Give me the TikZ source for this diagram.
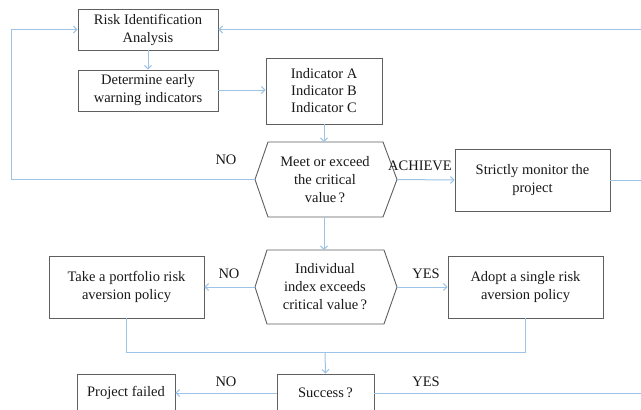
\documentclass[tikz,border=0pt]{standalone}
\usepackage{fontspec}
\setmainfont{Liberation Serif}
\usetikzlibrary{arrows.meta}
\definecolor{conncol}{HTML}{9DC3E6}
\definecolor{boxcol}{HTML}{5F5F5F}
\tikzset{
  boxnode/.style={draw=boxcol, line width=0.9pt, rectangle, align=center, inner sep=0pt,
    font=\fontsize{14.5}{18}\selectfont, text=black!90},
  hexline/.style={draw=boxcol, line width=0.9pt},
  txtnode/.style={align=center, inner sep=0pt, font=\fontsize{14.5}{18}\selectfont, text=black!90},
  conn/.style={draw=conncol, line width=1pt},
  arr/.style={conn, -{Straight Barb[length=3.5pt,width=7pt]}},
  lbl/.style={inner sep=0pt, font=\fontsize{14.5}{18}\selectfont, text=black!90}
}
\begin{document}
\begin{tikzpicture}[x=1pt,y=-1pt]
\useasboundingbox (0,0) rectangle (641,410);
\clip (0,0) rectangle (641,410);
\fill[white] (0,0) rectangle (641,410);
% boxes
\node[boxnode, minimum width=140pt, minimum height=41pt] (risk) at (148,29.5) {Risk Identification\\Analysis};
\node[boxnode, minimum width=140pt, minimum height=41pt] (det) at (148,90.5) {Determine early\\warning indicators};
\node[boxnode, minimum width=116pt, minimum height=66pt, font=\fontsize{14.5}{17}\selectfont] (ind) at (324,91) {Indicator A\\Indicator B\\Indicator C};
\node[boxnode, minimum width=155pt, minimum height=62pt] (mon) at (532.5,180) {Strictly monitor the\\project};
\node[boxnode, minimum width=155pt, minimum height=62pt] (port) at (126.5,287) {Take a portfolio risk\\aversion policy};
\node[boxnode, minimum width=155pt, minimum height=62pt] (adopt) at (525.5,287) {Adopt a single risk\\aversion policy};
\node[boxnode, minimum width=97pt, minimum height=38pt] (succ) at (325.5,393) {Success\thinspace?};
\node[boxnode, minimum width=98pt, minimum height=38pt] (fail) at (126,393) {Project failed};
% hexagon 1
\node[txtnode] (h1) at (325,179.5) {Meet or exceed\\the critical\\value\thinspace?};
\coordinate (h1w) at (255,179.5);
\coordinate (h1e) at (397,179.5);
\coordinate (h1n) at (324,142);
\coordinate (h1s) at (324,217);
\draw[hexline] (h1w) -- (268,142) -- (383,142) -- (h1e) -- (383,217) -- (268,217) -- cycle;
% hexagon 2
\node[txtnode] (h2) at (325,287) {Individual\\index exceeds\\critical value\thinspace?};
\coordinate (h2w) at (255,287);
\coordinate (h2e) at (397,287);
\coordinate (h2n) at (324,250);
\coordinate (h2s) at (324,324);
\draw[hexline] (h2w) -- (267,250) -- (384,250) -- (h2e) -- (384,324) -- (267,324) -- cycle;
% connectors
\draw[arr] (risk.south) -- (det.north);
\draw[arr] (det.east |- 0,90) -- (ind.west |- 0,90);
\draw[arr] (ind.south -| h1n) -- (h1n);
\coordinate (lft) at (11,179.5);
\draw[arr] (h1w) -- (lft) |- (risk.west);
\draw[arr] (h1e) -- (mon.west);
\coordinate (rgt) at (660,180);
\draw[arr] (mon.east) -- (rgt) |- (risk.east);
\draw[arr] (h1s) -- (h2n);
\draw[arr] (h2w) -- (port.east);
\draw[arr] (h2e) -- (adopt.west);
\coordinate (jn) at (325,352);
\draw[conn] (port.south) |- (jn);
\draw[conn] (adopt.south) |- (jn);
\draw[arr] (jn) -- (succ.north);
\draw[arr] (succ.west) -- (fail.east);
\coordinate (rgt2) at (660,393);
\draw[conn] (succ.east) -- (rgt2);
% labels
\node[lbl] at (226,160) {NO};
\node[lbl] at (420,166) {ACHIEVE};
\node[lbl] at (229,274) {NO};
\node[lbl] at (426,274) {YES};
\node[lbl] at (226,382) {NO};
\node[lbl] at (426,382) {YES};
\end{tikzpicture}
\end{document}
